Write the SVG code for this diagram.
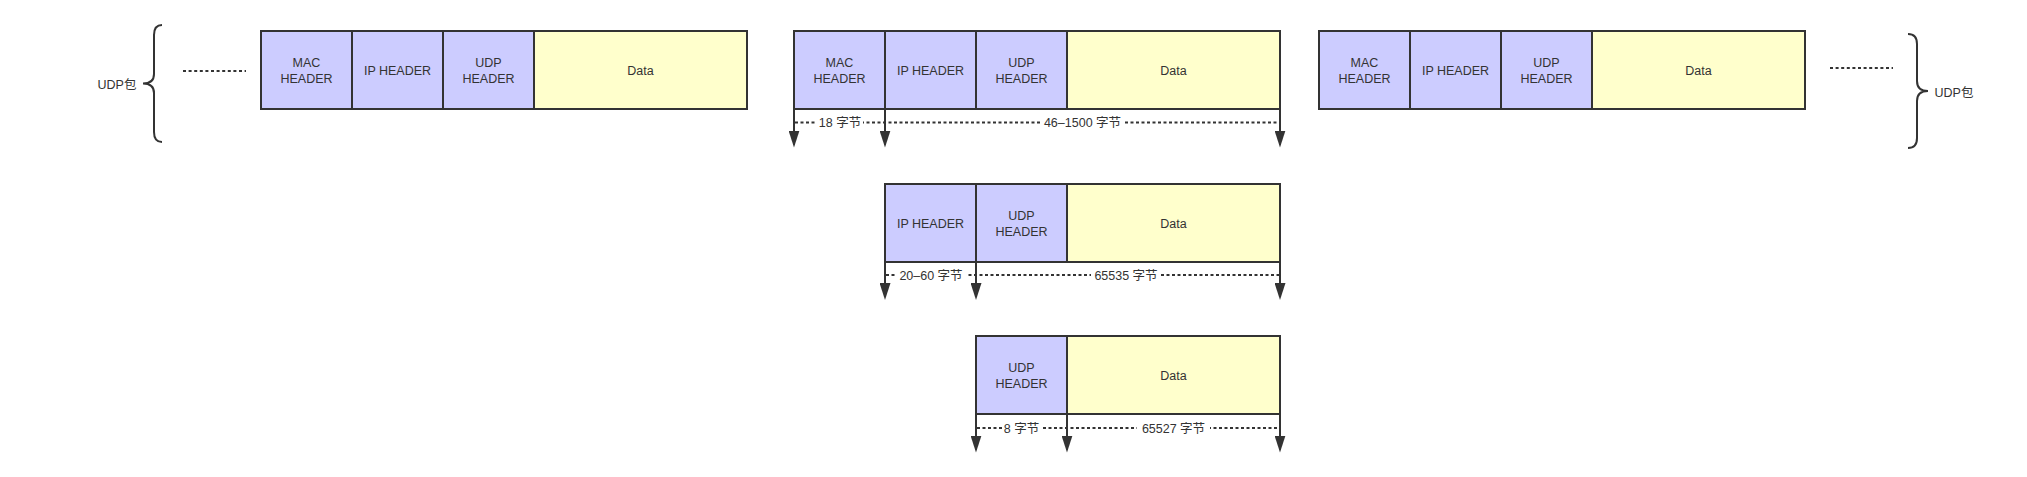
<svg xmlns="http://www.w3.org/2000/svg" width="2027" height="477" viewBox="0 0 2027 477">
<style>
  .hdr { fill: #ccccff; stroke: #333333; stroke-width: 2; }
  .dat { fill: #ffffcc; stroke: #333333; stroke-width: 2; }
  .t { font-family: "Liberation Sans", "Noto Sans CJK SC", sans-serif; font-size: 12.5px; fill: #333333; text-anchor: middle; dominant-baseline: central; }
  .dots { stroke: #333333; stroke-width: 2; stroke-dasharray: 3 2.6; fill: none; }
  .arr { stroke: #333333; stroke-width: 2; fill: none; marker-end: url(#ah); }
  .dim { stroke: #333333; stroke-width: 2; stroke-dasharray: 3 2.5; fill: none; }
  .lbg { fill: #ffffff; }
  .brace { stroke: #333333; stroke-width: 2; fill: none; }
</style>
<defs>
  <marker id="ah" viewBox="0 0 17 11" markerWidth="17" markerHeight="11" refX="14" refY="5.5" orient="auto" markerUnits="userSpaceOnUse">
    <path d="M0,0 L17,5.5 L0,11 z" fill="#333333"/>
  </marker>
</defs>
<rect width="2027" height="477" fill="#ffffff"/>

<!-- Left decoration -->
<g id="left-udp">
  <text class="t" x="117" y="85">UDP包</text>
  <path class="brace" d="M162,25 Q154,25 154,35 L154,74 Q154,83.5 143,83.5 Q154,83.5 154,93 L154,132 Q154,142 162,142"/>
  <line class="dots" x1="183" y1="71" x2="246" y2="71"/>
</g>

<!-- Right decoration -->
<g id="right-udp">
  <line class="dots" x1="1830" y1="68" x2="1893" y2="68"/>
  <path class="brace" d="M1908,34 Q1917,34 1917,44 L1917,81 Q1917,91 1928,91 Q1917,91 1917,101 L1917,138 Q1917,148 1908,148"/>
  <text class="t" x="1954" y="93">UDP包</text>
</g>

<!-- Packet 1 (left) -->
<g id="packet-left">
  <rect class="hdr" x="261" y="31" width="91" height="78"/>
  <rect class="hdr" x="352" y="31" width="91" height="78"/>
  <rect class="hdr" x="443" y="31" width="91" height="78"/>
  <rect class="dat" x="534" y="31" width="213" height="78"/>
  <text class="t" x="306.5" y="63">MAC</text>
  <text class="t" x="306.5" y="79">HEADER</text>
  <text class="t" x="397.5" y="71">IP HEADER</text>
  <text class="t" x="488.5" y="63">UDP</text>
  <text class="t" x="488.5" y="79">HEADER</text>
  <text class="t" x="640.5" y="71">Data</text>
</g>

<!-- Packet 2 (middle) -->
<g id="packet-mid">
  <rect class="hdr" x="794" y="31" width="91" height="78"/>
  <rect class="hdr" x="885" y="31" width="91" height="78"/>
  <rect class="hdr" x="976" y="31" width="91" height="78"/>
  <rect class="dat" x="1067" y="31" width="213" height="78"/>
  <text class="t" x="839.5" y="63">MAC</text>
  <text class="t" x="839.5" y="79">HEADER</text>
  <text class="t" x="930.5" y="71">IP HEADER</text>
  <text class="t" x="1021.5" y="63">UDP</text>
  <text class="t" x="1021.5" y="79">HEADER</text>
  <text class="t" x="1173.5" y="71">Data</text>
</g>

<!-- Packet 3 (right) -->
<g id="packet-right">
  <rect class="hdr" x="1319" y="31" width="91" height="78"/>
  <rect class="hdr" x="1410" y="31" width="91" height="78"/>
  <rect class="hdr" x="1501" y="31" width="91" height="78"/>
  <rect class="dat" x="1592" y="31" width="213" height="78"/>
  <text class="t" x="1364.5" y="63">MAC</text>
  <text class="t" x="1364.5" y="79">HEADER</text>
  <text class="t" x="1455.5" y="71">IP HEADER</text>
  <text class="t" x="1546.5" y="63">UDP</text>
  <text class="t" x="1546.5" y="79">HEADER</text>
  <text class="t" x="1698.5" y="71">Data</text>
</g>

<!-- IP packet -->
<g id="ip-packet">
  <rect class="hdr" x="885" y="184" width="91" height="78"/>
  <rect class="hdr" x="976" y="184" width="91" height="78"/>
  <rect class="dat" x="1067" y="184" width="213" height="78"/>
  <text class="t" x="930.5" y="224">IP HEADER</text>
  <text class="t" x="1021.5" y="216">UDP</text>
  <text class="t" x="1021.5" y="232">HEADER</text>
  <text class="t" x="1173.5" y="224">Data</text>
</g>

<!-- UDP packet -->
<g id="udp-packet">
  <rect class="hdr" x="976" y="336" width="91" height="78"/>
  <rect class="dat" x="1067" y="336" width="213" height="78"/>
  <text class="t" x="1021.5" y="368">UDP</text>
  <text class="t" x="1021.5" y="384">HEADER</text>
  <text class="t" x="1173.5" y="376">Data</text>
</g>

<!-- Connectors: arrows and dimension lines -->
<g id="connectors">
  <!-- row 1 -->
  <line class="arr" x1="794" y1="109" x2="794" y2="144.5"/>
  <line class="arr" x1="885" y1="109" x2="885" y2="144.5"/>
  <line class="arr" x1="1280" y1="109" x2="1280" y2="144.5"/>
  <line class="dim" x1="795" y1="122.5" x2="1279" y2="122.5"/>
  <rect class="lbg" x="817" y="115" width="46" height="15"/>
  <text class="t" x="840" y="123">18 字节</text>
  <rect class="lbg" x="1041" y="115" width="83" height="15"/>
  <text class="t" x="1082.5" y="123">46–1500 字节</text>

  <!-- row 2 -->
  <line class="arr" x1="885" y1="262" x2="885" y2="297"/>
  <line class="arr" x1="976" y1="262" x2="976" y2="297"/>
  <line class="arr" x1="1280" y1="262" x2="1280" y2="297"/>
  <line class="dim" x1="886" y1="275" x2="1279" y2="275"/>
  <rect class="lbg" x="895" y="267.5" width="72" height="15"/>
  <text class="t" x="931" y="275.5">20–60 字节</text>
  <rect class="lbg" x="1091" y="267.5" width="70" height="15"/>
  <text class="t" x="1126" y="275.5">65535 字节</text>

  <!-- row 3 -->
  <line class="arr" x1="976" y1="414" x2="976" y2="449.5"/>
  <line class="arr" x1="1067" y1="414" x2="1067" y2="449.5"/>
  <line class="arr" x1="1280" y1="414" x2="1280" y2="449.5"/>
  <line class="dim" x1="977" y1="428" x2="1279" y2="428"/>
  <rect class="lbg" x="1002" y="420.5" width="39" height="15"/>
  <text class="t" x="1021.5" y="428.5">8 字节</text>
  <rect class="lbg" x="1137" y="420.5" width="73" height="15"/>
  <text class="t" x="1173.5" y="428.5">65527 字节</text>
</g>
</svg>
